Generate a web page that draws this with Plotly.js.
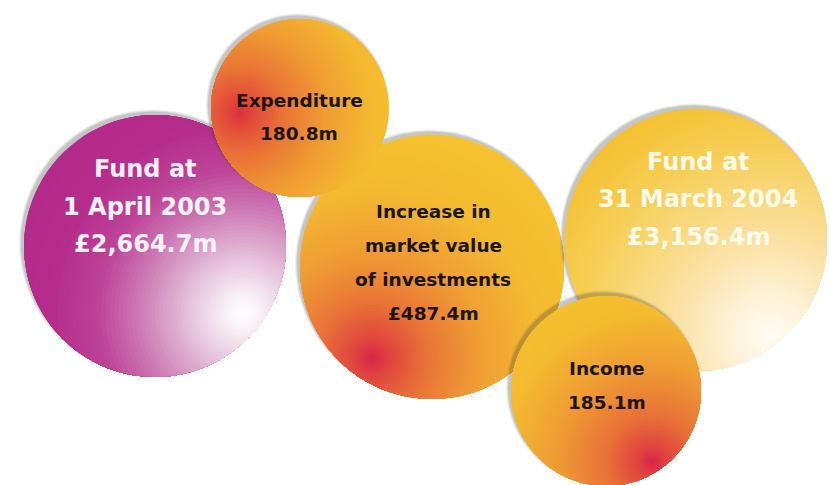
<!DOCTYPE html>
<html>
<head>
<meta charset="utf-8">
<script src="https://cdn.plot.ly/plotly-3.0.1.min.js"></script>
<style>html,body{margin:0;padding:0;background:#fff;overflow:hidden}</style>
</head>
<body>
<div id="chart" style="width:829px;height:485px"></div>
<script>
// ---------------- data ----------------
const categories = ['Fund at 1 April 2003', 'Expenditure', 'Increase in market value of investments', 'Fund at 31 March 2004', 'Income'];
const values = [2664.7, 180.8, 487.4, 3156.4, 185.1];
const labelLines = [['Fund at', '1 April 2003'], ['Expenditure'], ['Increase in', 'market value', 'of investments'], ['Fund at', '31 March 2004'], ['Income']];
const currencyPrefix = ['£', '', '£', '£', ''];

// ---------------- layout / style (pixel space) ----------------
const W = 829, H = 485;
const bubbleStyle = [
  { cx: 155, cy: 246, r: 131, fx: 243, fy: 313,
    stops: [[0,'#ffffff'],[20,'#f7eef4'],[60,'#e2bad7'],[105,'#cc78b3'],[145,'#bd4398'],[190,'#b62d8c'],[260,'#b3288a']],
    tx: 145, ty: 206.5, gap: 37.5, size: 24, color: '#fdf1f9' },
  { cx: 300, cy: 108, r: 89, fx: 240, fy: 113,
    stops: [[0,'#de3040'],[15,'#e34a3b'],[45,'#ea7536'],[85,'#f09c33'],[130,'#f4b830'],[180,'#f5c42e']],
    tx: 299, ty: 116.5, gap: 33, size: 18.5, color: '#1c1612' },
  { cx: 432, cy: 267, r: 132, fx: 372, fy: 358,
    stops: [[0,'#d9254a'],[18,'#e0443f'],[55,'#e97338'],[110,'#f09f34'],[170,'#f4ba31'],[260,'#f5c52e']],
    tx: 433, ty: 262.5, gap: 34.3, size: 18.5, color: '#1c1612' },
  { cx: 696, cy: 240, r: 131, fx: 770, fy: 335,
    stops: [[0,'#fffcf5'],[40,'#fef1d8'],[90,'#fbe2a8'],[150,'#f8d674'],[200,'#f6cb4e'],[250,'#f3c132'],[290,'#f2bd2c']],
    tx: 698, ty: 199, gap: 37.5, size: 24, color: '#fffbe8' },
  { cx: 606, cy: 391, r: 95, fx: 652, fy: 462,
    stops: [[0,'#d9254a'],[15,'#e0443f'],[45,'#e87038'],[95,'#ef9c34'],[150,'#f4bb30'],[210,'#f5c62e']],
    tx: 607, ty: 385, gap: 34, size: 18.5, color: '#1c1612' }
];
const drawOrder = [0, 2, 3, 1, 4];

// ---------------- helpers ----------------
function hex2rgb(h) { h = h.replace('#',''); return [0,2,4].map(i => parseInt(h.substr(i,2),16)); }
function colorAt(stops, d) {
  if (d <= stops[0][0]) return hex2rgb(stops[0][1]);
  for (let i = 1; i < stops.length; i++) {
    if (d <= stops[i][0]) {
      const a = stops[i-1], b = stops[i];
      const t = (d - a[0]) / (b[0] - a[0]);
      const ca = hex2rgb(a[1]), cb = hex2rgb(b[1]);
      return ca.map((v, k) => Math.round(v + (cb[k] - v) * t));
    }
  }
  return hex2rgb(stops[stops.length-1][1]);
}
// disk of radius rho around focus, clipped to bubble circle
function clippedDisk(s, rho) {
  const M = 180, xs = [], ys = [];
  const wx = s.fx - s.cx, wy = s.fy - s.cy, w2 = wx*wx + wy*wy;
  for (let i = 0; i <= M; i++) {
    const th = 2 * Math.PI * i / M, ux = Math.cos(th), uy = Math.sin(th);
    const b = ux*wx + uy*wy;
    const sDist = -b + Math.sqrt(Math.max(0, b*b - w2 + s.r*s.r));
    const d = Math.min(rho, sDist);
    xs.push(s.fx + d*ux); ys.push(s.fy + d*uy);
  }
  return [xs, ys];
}

// ---------------- traces ----------------
const traces = [];
const N = 70;
drawOrder.forEach(idx => {
  const s = bubbleStyle[idx];
  // soft drop shadow (up-left)
  [[5, 0.08], [3, 0.11], [1, 0.14]].forEach(([ext, op]) => {
    traces.push({ type: 'scatter', mode: 'markers', x: [s.cx - 2.5], y: [s.cy - 3],
      marker: { size: 2*s.r + ext, color: 'rgba(60,60,60,' + op + ')', line: { width: 0 } },
      hoverinfo: 'skip', showlegend: false, cliponaxis: true });
  });
  const rhoMax = Math.hypot(s.fx - s.cx, s.fy - s.cy) + s.r + 2;
  for (let k = 0; k < N; k++) {
    const rho = rhoMax * Math.pow((N - k) / N, 1.6);
    const rhoNext = rhoMax * Math.pow((N - k - 1) / N, 1.6);
    const c = colorAt(s.stops, (rho + rhoNext) / 2);
    const [xs, ys] = clippedDisk(s, rho);
    traces.push({ type: 'scatter', mode: 'none', x: xs, y: ys, fill: 'toself',
      fillcolor: 'rgb(' + c.join(',') + ')', hoverinfo: 'skip', showlegend: false,
      name: categories[idx] });
  }
});

// ---------------- labels ----------------
const annotations = [];
categories.forEach((cat, i) => {
  const s = bubbleStyle[i];
  const valueText = currencyPrefix[i] + values[i].toLocaleString('en-GB', { minimumFractionDigits: 1, maximumFractionDigits: 1 }) + 'm';
  const lines = labelLines[i].concat([valueText]);
  lines.forEach((ln, j) => {
    annotations.push({ x: s.tx, y: s.ty + (j - (lines.length - 1) / 2) * s.gap, xref: 'x', yref: 'y',
      text: ln, showarrow: false, xanchor: 'center', yanchor: 'middle',
      font: { family: 'DejaVu Sans', size: s.size, color: s.color, weight: 'bold' } });
  });
});

const layout = {
  width: W, height: H, margin: { l: 0, r: 0, t: 0, b: 0 },
  paper_bgcolor: '#ffffff', plot_bgcolor: '#ffffff', showlegend: false,
  xaxis: { range: [0, W], visible: false, fixedrange: true },
  yaxis: { range: [H, 0], visible: false, fixedrange: true },
  annotations: annotations
};
Plotly.newPlot('chart', traces, layout, { staticPlot: true, displayModeBar: false });
</script>
</body>
</html>
